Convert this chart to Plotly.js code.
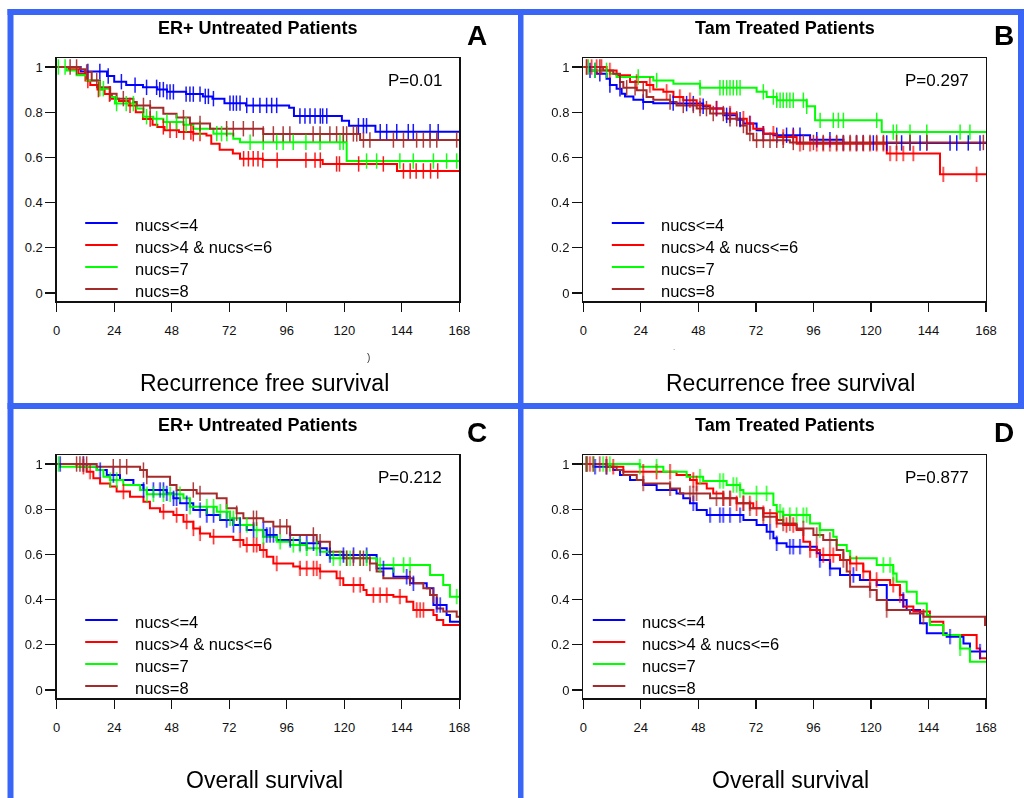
<!DOCTYPE html>
<html>
<head>
<meta charset="utf-8">
<script src="https://cdn.plot.ly/plotly-3.0.1.min.js"></script>
<style>
html,body{margin:0;padding:0;background:#fff;}
#chart{width:1024px;height:798px;}
</style>
</head>
<body>
<div id="chart"></div>
<script>
// ---------------- data ----------------
const seriesNames = ["nucs<=4", "nucs>4 & nucs<=6", "nucs=7", "nucs=8"];
const xTicks = [0, 24, 48, 72, 96, 120, 144, 168];
const yTicks = [0, 0.2, 0.4, 0.6, 0.8, 1];
const yTickText = ["0", "0.2", "0.4", "0.6", "0.8", "1"];
const panelTitles = ["ER+ Untreated Patients", "Tam Treated Patients", "ER+ Untreated Patients", "Tam Treated Patients"];
const panelLetters = ["A", "B", "C", "D"];
const panelPValues = ["P=0.01", "P=0.297", "P=0.212", "P=0.877"];
const panelCaptions = ["Recurrence free survival", "Recurrence free survival", "Overall survival", "Overall survival"];

// Panel A: ER+ untreated, recurrence free survival
const A_le4_t = [10, 21, 24, 29, 36, 42, 46, 54, 61, 65, 70, 79, 97, 99, 119, 122, 133];
const A_le4_s = [0.98, 0.96, 0.935, 0.92, 0.91, 0.90, 0.89, 0.88, 0.87, 0.86, 0.84, 0.83, 0.82, 0.783, 0.762, 0.74, 0.714];
const A_le4_c = [13, 18, 21.5, 27, 32.7, 37.5, 41.7, 43, 44.5, 46, 47.3, 48.7, 54, 55.6, 57, 59.8, 62, 63.3, 65.4, 72.3, 73.7, 75, 76.5, 79.3, 82, 84.8, 87.6, 89.7, 91.8, 101.5, 103.6, 105.7, 107.8, 110, 111, 112.7, 125.9, 128, 129.3, 135, 137.7, 141.9, 146.7, 148.8, 155.8, 159.2];
const A_46_t = [5, 9, 12, 14, 17, 20, 23, 26, 30, 33, 36, 40, 42, 45, 51, 57, 62.5, 64.5, 68, 73.5, 76.5, 86, 111, 142];
const A_46_s = [0.99, 0.97, 0.94, 0.92, 0.90, 0.88, 0.86, 0.85, 0.83, 0.80, 0.77, 0.745, 0.735, 0.72, 0.712, 0.705, 0.697, 0.66, 0.634, 0.617, 0.594, 0.588, 0.571, 0.54];
const A_46_c = [13, 17.4, 22, 30.6, 39, 44.5, 47.3, 50, 53, 56, 57, 59.8, 78, 80, 82, 84, 86, 92, 104, 107.8, 110, 116.8, 118, 126, 136.3, 144.7, 147.5, 150, 153, 156, 159];
const A_7_t = [4.2, 8.3, 12.5, 18, 22.3, 24.3, 33.4, 36.2, 40.3, 44.5, 52.9, 57, 65.4, 73.7, 76.5, 121];
const A_7_s = [0.985, 0.963, 0.94, 0.904, 0.867, 0.838, 0.816, 0.78, 0.771, 0.757, 0.745, 0.727, 0.705, 0.683, 0.667, 0.584];
const A_7_c = [0.7, 3.5, 18, 19.5, 25, 29, 32, 37.5, 41.7, 46, 50, 54, 59.8, 66.8, 68.8, 71, 80.7, 86.2, 91.8, 94.5, 98.7, 104, 109.9, 118.2, 119.6, 129.3, 133.5, 143.2, 148.8, 157.2, 162.7, 166.9];
const A_8_t = [9.7, 11.8, 14.6, 18, 22.3, 25, 32, 33.4, 39, 44.5, 50, 55.6, 64, 86.2, 126.6];
const A_8_s = [0.99, 0.978, 0.94, 0.91, 0.882, 0.86, 0.845, 0.83, 0.82, 0.793, 0.776, 0.75, 0.727, 0.704, 0.677];
const A_8_c = [5.6, 8.3, 12.5, 16.7, 22.3, 27.8, 36.2, 39, 52.9, 59.8, 70.9, 73.7, 77.9, 82, 86.2, 90.4, 94.5, 97.3, 107, 109.9, 114, 116.8, 119.6, 121, 123.8, 125.2, 128, 130.7, 140.5, 144.7, 150.2, 153, 155.8, 158.6, 166.9];

// Panel B: Tam treated, recurrence free survival
const B_le4_t = [2.8, 5.6, 9.7, 11.1, 13.9, 16, 17.4, 20.9, 25, 29.2, 38.9, 50, 52.9, 58.4, 64, 66.8, 72.3, 75.1, 79.3, 94.6, 108.5];
const B_le4_s = [0.985, 0.97, 0.948, 0.92, 0.904, 0.882, 0.87, 0.855, 0.845, 0.84, 0.838, 0.826, 0.816, 0.786, 0.767, 0.75, 0.72, 0.705, 0.698, 0.678, 0.664];
const B_le4_c = [2.8, 4.9, 6.9, 11.1, 15.3, 25, 37.5, 43.1, 45.9, 50, 55.6, 59.8, 61.2, 65.4, 69.5, 75.1, 80.7, 84.8, 87.6, 90.4, 97.4, 102.9, 108.5, 114, 116.8, 121, 126.6, 132.8, 136.3, 140.5, 143.3, 153, 155.8, 160.6, 165.5];
const B_46_t = [9.7, 13.9, 19.5, 26.4, 29.2, 33.4, 37.6, 41.7, 47.3, 52.9, 58.4, 64, 68.2, 70.9, 75.1, 80.7, 89, 126.6, 148.8];
const B_46_s = [0.985, 0.963, 0.934, 0.92, 0.90, 0.89, 0.867, 0.853, 0.83, 0.816, 0.794, 0.771, 0.75, 0.727, 0.705, 0.69, 0.66, 0.617, 0.525];
const B_46_c = [1.4, 3.5, 5.6, 7.6, 11.1, 22.3, 27.8, 34.8, 40.3, 44.5, 48.7, 55.6, 61.2, 66.8, 69.5, 75.1, 79.3, 83.4, 87.6, 90.4, 94.6, 97.4, 100.1, 102.9, 105.7, 108.5, 111.3, 114, 116.8, 119.6, 122.4, 125.2, 128, 130.7, 133.5, 137.7, 150.2, 164.1];
const B_7_t = [2.8, 11.1, 13.9, 29.2, 37.6, 48.7, 72.3, 76.5, 80.7, 93.2, 96.7, 124.5];
const B_7_s = [0.985, 0.97, 0.956, 0.94, 0.926, 0.908, 0.89, 0.867, 0.853, 0.826, 0.764, 0.712];
const B_7_c = [2.1, 4.9, 9.7, 22.9, 30.6, 48.7, 57, 58.4, 59.8, 61.2, 62.6, 64, 65.4, 75.1, 79.3, 80.7, 82.1, 83.4, 84.8, 86.2, 87.6, 91.8, 93.2, 98.8, 104.3, 106.4, 108.5, 122.4, 129.3, 130.7, 136.3, 143.3, 157.2, 161.3];
const B_8_t = [8.3, 12.5, 15.3, 16.7, 22.3, 26.4, 29.2, 36.2, 38.9, 47.3, 52.9, 59.8, 65.4, 68.2, 70.9, 86.2];
const B_8_s = [0.985, 0.97, 0.934, 0.908, 0.897, 0.867, 0.855, 0.845, 0.83, 0.816, 0.794, 0.771, 0.741, 0.705, 0.676, 0.666];
const B_8_c = [1.4, 6.9, 15.3, 18.1, 21.6, 25, 36.2, 41.7, 45.9, 48.7, 51.4, 54.2, 58.4, 61.2, 64, 66.8, 69.5, 72.3, 75.1, 77.9, 80.7, 83.4, 87.6, 91.8, 96, 100.1, 105.7, 108.5, 111.3, 114, 116.8, 119.6, 122.4, 125.2, 130.7, 136.3, 143.3, 166.9];

// Panel C: ER+ untreated, overall survival
const C_le4_t = [12.5, 16.7, 20.9, 26.4, 32, 36.2, 45.9, 48.7, 51.5, 57, 62.6, 68.2, 73.7, 79.3, 87.6, 91.8, 101.5, 109.9, 112.7, 133.5, 140.5, 147.4, 154.4, 157.2, 162.7, 164.1];
const C_le4_s = [0.988, 0.973, 0.951, 0.929, 0.907, 0.885, 0.87, 0.848, 0.826, 0.796, 0.774, 0.752, 0.73, 0.708, 0.686, 0.664, 0.649, 0.627, 0.597, 0.538, 0.501, 0.472, 0.45, 0.376, 0.332, 0.302];
const C_le4_c = [1.4, 11.1, 18.1, 23.6, 36.2, 40.3, 43.1, 44.5, 45.9, 48.7, 50, 54.2, 59.8, 62.6, 65.4, 70.9, 73.7, 76.5, 82.1, 86.2, 87.6, 89, 90.4, 97.4, 101.5, 104.3, 107.1, 109.9, 114, 119.6, 123.8, 129.3, 136.3, 146, 148.8, 158.6, 160];
const C_46_t = [8.3, 12.5, 15.3, 18.1, 22.3, 25, 30.6, 36.2, 38.9, 43.1, 48.7, 52.9, 57, 59.8, 64, 73.7, 77.9, 84.8, 87.6, 90.4, 98.7, 101.5, 109.9, 116.8, 119.6, 128, 129.3, 140.5, 146, 148.8, 157.2, 158.6, 161.3];
const C_46_s = [0.988, 0.966, 0.937, 0.914, 0.90, 0.878, 0.855, 0.833, 0.804, 0.789, 0.774, 0.745, 0.715, 0.693, 0.678, 0.664, 0.642, 0.619, 0.59, 0.56, 0.546, 0.538, 0.524, 0.494, 0.465, 0.442, 0.42, 0.413, 0.391, 0.354, 0.332, 0.31, 0.288];
const C_46_c = [11.1, 13.9, 27.8, 44.5, 50, 54.2, 57, 59.8, 65.4, 76.5, 79.3, 82.1, 83.4, 86.2, 91.8, 101.5, 104.3, 107.1, 108.5, 109.9, 118.2, 123.8, 126.6, 132.1, 134.9, 137.7, 143.2, 150.2, 151.6, 153];
const C_7_t = [1.4, 16.7, 19.5, 22.3, 27.8, 34.8, 37.6, 52.9, 55.6, 66.8, 72.3, 76.5, 82.1, 86.2, 91.8, 97.4, 104.3, 109.9, 114, 133.5, 155.8, 161.3, 164.1];
const C_7_s = [0.988, 0.973, 0.944, 0.929, 0.907, 0.885, 0.866, 0.848, 0.811, 0.789, 0.76, 0.73, 0.708, 0.678, 0.656, 0.642, 0.627, 0.612, 0.583, 0.553, 0.509, 0.465, 0.413];
const C_7_c = [0.7, 22.3, 25, 37.6, 40.3, 44.5, 47.3, 51.4, 55.6, 62.6, 65.4, 68.2, 70.9, 72.3, 73.7, 79.3, 83.4, 86.2, 93.2, 98.7, 101.5, 104.3, 108.5, 115.4, 118.2, 121, 122.4, 126.6, 129.3, 134.9, 140.5, 144.7, 147.4, 166.9];
const C_8_t = [16.7, 34.8, 37.6, 47.3, 50, 58.4, 66.8, 70.9, 75.1, 77.9, 86.2, 90.4, 97.4, 108.5, 114, 119.6, 130.7, 133.5, 136.3, 148.8, 153, 155.8, 158.6, 161.3, 166.9];
const C_8_s = [0.988, 0.973, 0.944, 0.907, 0.885, 0.87, 0.848, 0.804, 0.782, 0.76, 0.745, 0.723, 0.686, 0.656, 0.612, 0.583, 0.56, 0.524, 0.494, 0.472, 0.45, 0.42, 0.361, 0.347, 0.324];
const C_8_c = [8.3, 9.7, 11.1, 12.5, 23.6, 26.4, 29.2, 36.2, 37.6, 57, 59.8, 75.1, 82.1, 83.4, 93.2, 96, 97.4, 107.1, 109.9, 121, 123.8, 126.6, 128, 130.7, 147.4, 157.2];

// Panel D: Tam treated, overall survival
const D_le4_t = [4.2, 12.5, 15.3, 19.5, 25, 30.6, 38.9, 41.7, 44.5, 47.3, 51.5, 66.8, 72.3, 76.5, 79.3, 80.7, 84.8, 97.4, 98.7, 102.9, 107.1, 115.4, 122.4, 126.6, 134.9, 140.5, 143.3, 151.6, 158.6, 161.3];
const D_le4_s = [0.988, 0.973, 0.951, 0.929, 0.907, 0.885, 0.87, 0.848, 0.826, 0.796, 0.774, 0.752, 0.73, 0.70, 0.671, 0.649, 0.634, 0.605, 0.575, 0.538, 0.509, 0.487, 0.465, 0.398, 0.354, 0.295, 0.251, 0.236, 0.206, 0.17];
const D_le4_c = [1.4, 4.9, 9.7, 45.9, 52.9, 57, 58.4, 61.2, 65.4, 77.9, 80.7, 86.2, 87.6, 90.4, 98.7, 102.9, 112.7, 133.5, 153, 165.5];
const D_46_t = [11.1, 16.7, 38.9, 44.5, 47.3, 51.5, 54.2, 58.4, 64, 70.9, 75.1, 80.7, 83.4, 89, 91.8, 94.6, 98.7, 107.1, 111.3, 116.8, 119.6, 128, 132.1, 133.5, 137.7, 144.6, 150.2, 164.1, 165.5];
const D_46_s = [0.988, 0.966, 0.951, 0.929, 0.914, 0.892, 0.87, 0.848, 0.826, 0.804, 0.782, 0.752, 0.73, 0.708, 0.656, 0.619, 0.597, 0.575, 0.56, 0.524, 0.487, 0.465, 0.42, 0.369, 0.347, 0.302, 0.243, 0.184, 0.14];
const D_46_c = [1.4, 2.8, 9.7, 12.5, 25, 30.6, 36.2, 45.9, 47.3, 58.4, 61.2, 64, 66.8, 69.5, 72.3, 75.1, 80.7, 84.8, 87.6, 94.6, 97.4, 100.1, 102.9, 104.3, 111.3, 114, 116.8, 119.6, 122.4, 129.3, 132.1];
const D_7_t = [23.6, 33.4, 43.1, 50, 59.8, 65.4, 66.8, 79.3, 80.7, 83.4, 94.6, 98.7, 104.3, 105.7, 109.9, 111.3, 122.4, 129.3, 130.7, 134.9, 139.1, 143.3, 144.6, 150.2, 157.2, 161.3];
const D_7_s = [0.988, 0.966, 0.944, 0.925, 0.907, 0.885, 0.87, 0.819, 0.789, 0.774, 0.737, 0.708, 0.678, 0.642, 0.615, 0.583, 0.553, 0.516, 0.479, 0.435, 0.383, 0.332, 0.288, 0.243, 0.184, 0.125];
const D_7_c = [1.4, 4.2, 8.3, 11.1, 23.6, 30.6, 48.7, 57, 58.4, 62.6, 64, 65.4, 72.3, 76.5, 82.1, 83.4, 86.2, 89, 91.8, 93.2, 98.7, 125.2, 128, 129.3, 157.2];
const D_8_t = [9.7, 13.9, 16.7, 22.3, 25, 36.2, 40.3, 52.9, 64, 69.5, 75.1, 80.7, 89, 96, 100.1, 105.7, 108.5, 109.9, 111.3, 119.6, 122.4, 126.6, 136.3, 141.9, 167.6];
const D_8_s = [0.988, 0.973, 0.951, 0.929, 0.914, 0.892, 0.87, 0.848, 0.826, 0.804, 0.767, 0.737, 0.715, 0.686, 0.664, 0.619, 0.575, 0.524, 0.457, 0.442, 0.398, 0.354, 0.339, 0.324, 0.288];
const D_8_c = [1.4, 4.2, 6.9, 9.7, 25, 36.2, 44.5, 45.9, 47.3, 55.6, 58.4, 61.2, 66.8, 69.5, 75.1, 77.9, 83.4, 86.2, 91.8, 97.4, 102.9, 108.5, 119.6, 126.6, 141.9];

const panels = [
  [[A_le4_t, A_le4_s, A_le4_c], [A_46_t, A_46_s, A_46_c], [A_7_t, A_7_s, A_7_c], [A_8_t, A_8_s, A_8_c]],
  [[B_le4_t, B_le4_s, B_le4_c], [B_46_t, B_46_s, B_46_c], [B_7_t, B_7_s, B_7_c], [B_8_t, B_8_s, B_8_c]],
  [[C_le4_t, C_le4_s, C_le4_c], [C_46_t, C_46_s, C_46_c], [C_7_t, C_7_s, C_7_c], [C_8_t, C_8_s, C_8_c]],
  [[D_le4_t, D_le4_s, D_le4_c], [D_46_t, D_46_s, D_46_c], [D_7_t, D_7_s, D_7_c], [D_8_t, D_8_s, D_8_c]]
];

// ---------------- styling ----------------
const W = 1024, H = 798;
const colors = ["#0000ff", "#ff0000", "#00ff00", "#a52a2a"];
const FONT = "Arial, 'Liberation Sans', sans-serif";
const px = x => x / W;
const py = y => 1 - y / H;

// plot-area rectangles in pixels [left, right, top, bottom]
const boxes = [
  [56.7, 459.3, 58, 301],
  [583.3, 986, 58, 301],
  [56.7, 459.3, 455, 698],
  [583.3, 986, 455, 698]
];
// legend key offset (px from plot-area left) per panel
const legendOffsets = [28.5, 28.5, 28.5, 9.5];
const yRange = [-8 / 226, 1 + 9 / 226];

function stepAt(ts, ss, t) {
  let v = 1;
  for (let i = 0; i < ts.length; i++) { if (ts[i] <= t) v = ss[i]; }
  return v;
}

const traces = [];
const layout = {
  width: W, height: H,
  margin: {l: 0, r: 0, t: 0, b: 0},
  paper_bgcolor: "#ffffff", plot_bgcolor: "#ffffff",
  font: {family: FONT, color: "#000"},
  showlegend: false,
  annotations: [], shapes: []
};

panels.forEach((panel, p) => {
  const sfx = p === 0 ? "" : String(p + 1);
  const xa = "x" + sfx, ya = "y" + sfx;
  const [l, r, t, b] = boxes[p];
  layout["xaxis" + sfx] = {
    domain: [px(l), px(r)], anchor: ya, range: [0, 168],
    tickvals: xTicks, ticks: "outside", ticklen: 9, tickwidth: 1.3, tickcolor: "#111",
    showgrid: false, zeroline: false, showline: true, linecolor: "#111", linewidth: 1.5, mirror: true,
    tickfont: {size: 13, family: FONT, color: "#111"}, ticklabelstandoff: 8, fixedrange: true
  };
  layout["yaxis" + sfx] = {
    domain: [py(b), py(t)], anchor: xa, range: yRange,
    tickvals: yTicks, ticktext: yTickText, ticks: "outside", ticklen: 10, tickwidth: 1.3, tickcolor: "#111",
    showgrid: false, zeroline: false, showline: true, linecolor: "#111", linewidth: 1.3, mirror: true,
    tickfont: {size: 13, family: FONT, color: "#111"}, fixedrange: true
  };
  panel.forEach((s, k) => {
    const [ts, ss, cs] = s;
    traces.push({
      type: "scatter", mode: "lines", xaxis: xa, yaxis: ya,
      x: [0].concat(ts, [168]), y: [1].concat(ss, [ss[ss.length - 1]]),
      line: {shape: "hv", color: colors[k], width: 2},
      name: seriesNames[k], hoverinfo: "skip"
    });
  });
  panel.forEach((s, k) => {
    const [ts, ss, cs] = s;
    traces.push({
      type: "scatter", mode: "markers", xaxis: xa, yaxis: ya,
      x: cs, y: cs.map(c => stepAt(ts, ss, c)),
      marker: {symbol: "line-ns", size: 11, color: colors[k], line: {color: colors[k], width: 1.5}},
      name: seriesNames[k] + " censored", hoverinfo: "skip", opacity: 0.9
    });
  });
  // legend key (inside plot area)
  const lo = legendOffsets[p];
  seriesNames.forEach((nm, k) => {
    const yy = t + 166 + 22 * k;
    layout.shapes.push({type: "line", xref: "paper", yref: "paper",
      x0: px(l + lo), x1: px(l + lo + 32.5), y0: py(yy - 1), y1: py(yy - 1),
      line: {color: colors[k], width: 2}});
    layout.annotations.push({xref: "paper", yref: "paper", x: px(l + lo + 47.5), y: py(yy + 1),
      text: nm.replace(/&/g, "&amp;").replace(/</g, "&lt;").replace(/>/g, "&gt;"), showarrow: false,
      font: {size: 16.5, family: FONT, color: "#000"}, xanchor: "left", yanchor: "middle"});
  });
  const cx = (l + r) / 2;
  // title
  layout.annotations.push({
    xref: "paper", yref: "paper", x: px(cx), y: py(t - 30),
    text: "<b>" + panelTitles[p] + "</b>", showarrow: false,
    font: {size: 18, family: FONT, color: "#000"}, xanchor: "center", yanchor: "middle"
  });
  // letter
  layout.annotations.push({
    xref: "paper", yref: "paper", x: px(r + 18), y: py(t - 23),
    text: "<b>" + panelLetters[p] + "</b>", showarrow: false,
    font: {size: 28, family: FONT, color: "#000"}, xanchor: "center", yanchor: "middle"
  });
  // p-value
  layout.annotations.push({
    xref: "paper", yref: "paper", x: px(r - 15), y: py(t + 22),
    text: panelPValues[p], showarrow: false,
    font: {size: 17, family: FONT, color: "#000"}, xanchor: "right", yanchor: "middle"
  });
  // caption
  layout.annotations.push({
    xref: "paper", yref: "paper", x: px(cx + 6), y: py(b + 82),
    text: panelCaptions[p], showarrow: false,
    font: {size: 23, family: FONT, color: "#000"}, xanchor: "center", yanchor: "middle"
  });
});

// small stray marks from the source figure
layout.annotations.push({xref: "paper", yref: "paper", x: px(368), y: py(357), text: ")", showarrow: false,
  font: {size: 10, family: FONT, color: "#333"}, xanchor: "center", yanchor: "middle"});
layout.annotations.push({xref: "paper", yref: "paper", x: px(674), y: py(347), text: ".", showarrow: false,
  font: {size: 8, family: FONT, color: "#666"}, xanchor: "center", yanchor: "middle"});

// blue panel borders
const BLUE = "#3a66f8";
const rects = [
  [7.5, 1024, 9, 15],     // top
  [7.5, 13.5, 9, 798],    // left
  [518, 523.5, 9, 798],   // vertical divider
  [7.5, 1024, 403, 409],  // horizontal divider
  [1018, 1024, 9, 409]    // right (upper half)
];
rects.forEach(([x0, x1, y0, y1]) => {
  layout.shapes.push({type: "rect", xref: "paper", yref: "paper",
    x0: px(x0), x1: px(x1), y0: py(y1), y1: py(y0), fillcolor: BLUE, line: {width: 0}, layer: "below"});
});

Plotly.newPlot("chart", traces, layout, {displayModeBar: false, staticPlot: true});
</script>
</body>
</html>
